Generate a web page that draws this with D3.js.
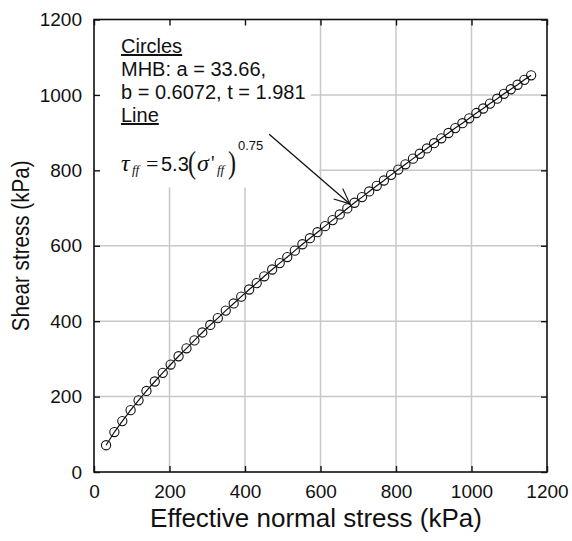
<!DOCTYPE html>
<html>
<head>
<meta charset="utf-8">
<script src="https://cdn.jsdelivr.net/npm/d3@7"></script>
<style>
  body { margin: 0; background: #fff; }
  text { font-family: "Liberation Sans", Arial, sans-serif; fill: #111; }
</style>
</head>
<body>
<div id="chart"></div>
<script>
// effective normal stress (kPa) of each circle
var sigmaVals = [32, 54, 75, 97, 118, 139, 161, 182, 203, 224, 245, 266, 287, 308, 328, 349,
  370, 390, 411, 431, 451, 472, 492, 512, 532, 552, 572, 592, 612, 632, 651, 671, 690, 710,
  729, 749, 768, 787, 806, 825, 845, 863, 882, 901, 920, 939, 957, 976, 994, 1013, 1031,
  1049, 1068, 1086, 1104, 1122, 1140, 1158];
// shear stress (kPa) of each circle
var tauVals = [71, 106, 135, 164, 190, 215, 240, 263, 285, 307, 328, 349, 370, 390, 408, 428,
  447, 465, 484, 501, 519, 537, 554, 570, 587, 604, 620, 636, 652, 668, 683, 699, 714, 729,
  744, 759, 773, 788, 802, 816, 831, 844, 858, 872, 885, 899, 912, 925, 938, 952, 964,
  977, 990, 1003, 1015, 1027, 1040, 1052];

var xTicks = [0, 200, 400, 600, 800, 1000, 1200];
var yTicks = [0, 200, 400, 600, 800, 1000, 1200];
var gridVals = [200, 400, 600, 800, 1000];

var legendLines = ["Circles", "MHB: a = 33.66,", "b = 0.6072, t = 1.981", "Line"];
var arrowFrom = [464, 896];   // data coords of the arrow tail
var arrowTo = [678, 711];     // data coords of the arrow tip

var W = 572, H = 541;
var pL = 94, pR = 547, pT = 19.5, pB = 472;

var x = d3.scaleLinear().domain([0, 1200]).range([pL, pR]);
var y = d3.scaleLinear().domain([0, 1200]).range([pB, pT]);

var svg = d3.select("#chart").append("svg")
  .attr("width", W)
  .attr("height", H);

// grid
svg.append("g").selectAll("line").data(gridVals).enter().append("line")
  .attr("x1", function(d) { return x(d); })
  .attr("x2", function(d) { return x(d); })
  .attr("y1", pT)
  .attr("y2", pB)
  .style("stroke", "#c8c8c8")
  .style("stroke-width", "1.5px");
svg.append("g").selectAll("line").data(gridVals).enter().append("line")
  .attr("x1", pL)
  .attr("x2", pR)
  .attr("y1", function(d) { return y(d); })
  .attr("y2", function(d) { return y(d); })
  .style("stroke", "#c8c8c8")
  .style("stroke-width", "1.5px");

// white backing behind the annotation
svg.append("rect")
  .attr("x", pL + 1).attr("y", pT + 1)
  .attr("width", 216).attr("height", 167)
  .style("fill", "#fff");
svg.append("rect")
  .attr("x", pL + 1).attr("y", 158)
  .attr("width", 224).attr("height", 29)
  .style("fill", "#fff");

// fitted line
var line = d3.line()
  .x(function(d, i) { return x(sigmaVals[i]); })
  .y(function(d, i) { return y(tauVals[i]); });
svg.append("path")
  .datum(sigmaVals)
  .attr("d", line)
  .style("fill", "none")
  .style("stroke", "#111")
  .style("stroke-width", "1.2px");

// circles
svg.append("g").selectAll("circle").data(sigmaVals).enter().append("circle")
  .attr("cx", function(d) { return x(d); })
  .attr("cy", function(d, i) { return y(tauVals[i]); })
  .attr("r", 4.6)
  .style("fill", "none")
  .style("stroke", "#111")
  .style("stroke-width", "1.1px");

// arrow with open head
var ax1 = x(arrowFrom[0]), ay1 = y(arrowFrom[1]);
var ax2 = x(arrowTo[0]), ay2 = y(arrowTo[1]);
var ang = Math.atan2(ay1 - ay2, ax1 - ax2);
var barb = 17, spread = 24 * Math.PI / 180;
svg.append("line")
  .attr("x1", ax1).attr("y1", ay1)
  .attr("x2", ax2).attr("y2", ay2)
  .style("stroke", "#111")
  .style("stroke-width", "1.3px");
[-spread, spread].forEach(function(s) {
  svg.append("line")
    .attr("x1", ax2).attr("y1", ay2)
    .attr("x2", ax2 + barb * Math.cos(ang + s))
    .attr("y2", ay2 + barb * Math.sin(ang + s))
    .style("stroke", "#111")
    .style("stroke-width", "1.1px");
});

// axes, ticks pointing inward
var fmt = d3.format("d");
var xAxis = svg.append("g")
  .attr("transform", "translate(0," + pB + ")")
  .call(d3.axisBottom(x).tickValues(xTicks).tickFormat(fmt).tickSizeInner(-6).tickSizeOuter(0).tickPadding(12.5));
var yAxis = svg.append("g")
  .attr("transform", "translate(" + pL + ",0)")
  .call(d3.axisLeft(y).tickValues(yTicks).tickFormat(fmt).tickSizeInner(-6).tickSizeOuter(0).tickPadding(12));
svg.append("g")
  .attr("transform", "translate(0," + pT + ")")
  .call(d3.axisTop(x).tickValues(xTicks).tickSizeInner(-6).tickSizeOuter(0).tickFormat(""));
svg.append("g")
  .attr("transform", "translate(" + pR + ",0)")
  .call(d3.axisRight(y).tickValues(yTicks).tickSizeInner(-6).tickSizeOuter(0).tickFormat(""));

svg.selectAll(".domain").remove();
svg.selectAll(".tick line").style("stroke", "#111").style("stroke-width", "1.4px");
xAxis.selectAll("text").style("font-size", "19px").style("font-family", "Liberation Sans, Arial, sans-serif").attr("fill", "#111");
yAxis.selectAll("text").style("font-size", "19px").style("font-family", "Liberation Sans, Arial, sans-serif").attr("fill", "#111");

// frame
svg.append("rect")
  .attr("x", pL).attr("y", pT)
  .attr("width", pR - pL).attr("height", pB - pT)
  .style("fill", "none")
  .style("stroke", "#111")
  .style("stroke-width", "1.6px");

// axis titles
svg.append("text")
  .attr("x", 316)
  .attr("y", 527)
  .attr("text-anchor", "middle")
  .style("font-size", "26px")
  .text("Effective normal stress (kPa)");
svg.append("text")
  .attr("transform", "translate(29," + ((pT + pB) / 2) + ") rotate(-90) scale(0.86,1)")
  .attr("text-anchor", "middle")
  .style("font-size", "24px")
  .text("Shear stress (kPa)");

// annotation text
var tx = 121;
legendLines.forEach(function(s, i) {
  svg.append("text")
    .attr("x", tx)
    .attr("y", 53 + i * 23)
    .style("font-size", "20px")
    .style("text-decoration", (i === 0 || i === 3) ? "underline" : null)
    .text(s);
});

// equation: tau_ff = 5.3 (sigma'_ff)^0.75
var eqY = 171;
var serif = "Liberation Serif, Times New Roman, serif";
function eq(xp, yp, size, str, italic, fam) {
  svg.append("text")
    .attr("x", xp)
    .attr("y", yp)
    .style("font-size", size + "px")
    .style("font-style", italic ? "italic" : "normal")
    .style("font-family", fam || serif)
    .text(str);
}
eq(tx, eqY, 24, "\u03c4", true);
eq(tx + 11, eqY + 3, 13, "ff", true);
eq(tx + 25, eqY, 22, "=", false);
eq(tx + 40, eqY, 20, "5.3", false, "Liberation Sans, Arial, sans-serif");
svg.append("text")
  .attr("transform", "translate(" + (tx + 67) + "," + (eqY + 2) + ") scale(1,1.35)")
  .style("font-size", "24px")
  .style("font-family", serif)
  .text("(");
eq(tx + 76, eqY, 24, "\u03c3", true);
eq(tx + 90, eqY - 1, 20, "'", false);
eq(tx + 96, eqY + 3, 13, "ff", true);
svg.append("text")
  .attr("transform", "translate(" + (tx + 107) + "," + (eqY + 2) + ") scale(1,1.35)")
  .style("font-size", "24px")
  .style("font-family", serif)
  .text(")");
eq(tx + 117, eqY - 21, 13, "0.75", false, "Liberation Sans, Arial, sans-serif");
</script>
</body>
</html>
